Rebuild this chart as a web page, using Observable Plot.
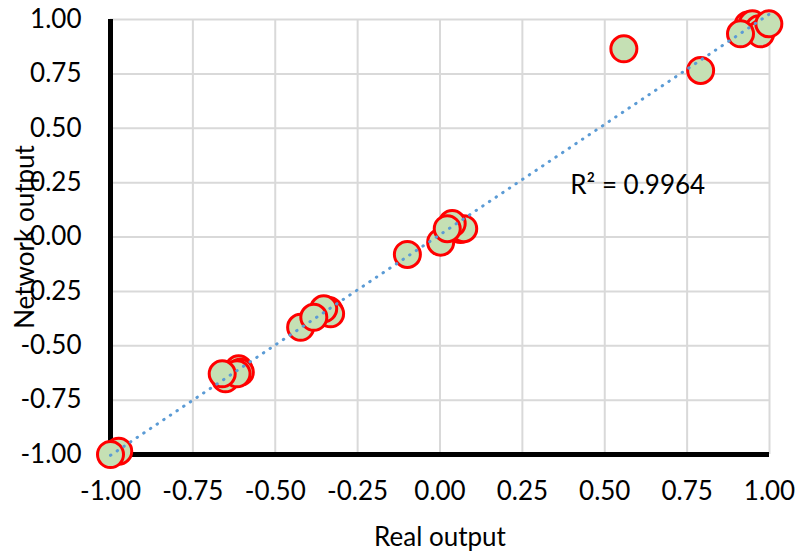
<!DOCTYPE html>
<html>
<head>
<meta charset="utf-8">
<script src="https://cdn.jsdelivr.net/npm/d3@7"></script>
<script src="https://cdn.jsdelivr.net/npm/@observablehq/plot@0.6"></script>
<style>
  html, body { margin: 0; padding: 0; background: #fff; }
</style>
</head>
<body>
<div id="chart"></div>
<script>
// Data (drawing order matters for overlap)
const realOutput = [
  -0.975, -1.000,
  -0.651, -0.611, -0.606, -0.616, -0.661,
  -0.423, -0.347, -0.337, -0.332, -0.353, -0.383,
  -0.099,
  0.002, 0.047, 0.062, 0.072, 0.037, 0.022,
  0.558,
  0.791,
  0.935, 0.948, 0.968, 0.973, 0.912, 0.998
];
const networkOutput = [
  -0.985, -1.000,
  -0.652, -0.606, -0.622, -0.629, -0.629,
  -0.415, -0.346, -0.338, -0.353, -0.330, -0.369,
  -0.080,
  -0.024, 0.045, 0.034, 0.038, 0.062, 0.038,
  0.865,
  0.766,
  0.975, 0.980, 0.957, 0.934, 0.934, 0.980
];
const tickValues = [-1, -0.75, -0.5, -0.25, 0, 0.25, 0.5, 0.75, 1];
const xLabel = "Real output";
const yLabel = "Network output";
const r2Label = "R² = 0.9964";

const data = realOutput.map((x, i) => ({x, y: networkOutput[i]}));
const fmt = d => d.toFixed(2);
const FS = 26;

const chart = Plot.plot({
  width: 797,
  height: 556,
  marginLeft: 110,
  marginRight: 28,
  marginTop: 19,
  marginBottom: 102,
  style: {fontFamily: "Lato, 'Open Sans', sans-serif", fontSize: FS + "px", color: "#000", background: "#fff", overflow: "visible"},
  x: {domain: [-1, 1]},
  y: {domain: [-1, 1]},
  marks: [
    Plot.gridX(tickValues, {stroke: "#d9d9d9", strokeOpacity: 1, strokeWidth: 2}),
    Plot.gridY(tickValues, {stroke: "#d9d9d9", strokeOpacity: 1, strokeWidth: 2}),
    Plot.ruleX([-1], {stroke: "#000", strokeWidth: 5}),
    Plot.ruleY([-1], {stroke: "#000", strokeWidth: 5}),
    Plot.axisX(tickValues, {tickSize: 0, tickPadding: 27, tickFormat: fmt, fontSize: FS, label: null}),
    Plot.axisY(tickValues, {tickSize: 0, tickPadding: 29, tickFormat: fmt, fontSize: FS, label: null}),
    Plot.dot(data, {x: "x", y: "y", r: 13, fill: "#c5e0b4", fillOpacity: 1, stroke: "#ff0000", strokeWidth: 3, clip: false}),
    Plot.linearRegressionY(data, {x: "x", y: "y", ci: 0, stroke: "#5b9bd5", strokeWidth: 3, strokeDasharray: "0.5 7.5", strokeLinecap: "round"}),
    Plot.text([r2Label], {x: 0.6, y: 0.237, fontSize: FS, fill: "#000"}),
    Plot.text([xLabel], {frameAnchor: "bottom", dy: 83, lineAnchor: "middle", fontSize: FS, fill: "#000"}),
    Plot.text([yLabel], {frameAnchor: "left", dx: -85, rotate: -90, textAnchor: "middle", lineAnchor: "middle", fontSize: FS, fill: "#000"})
  ]
});
document.getElementById("chart").appendChild(chart);
</script>
</body>
</html>
